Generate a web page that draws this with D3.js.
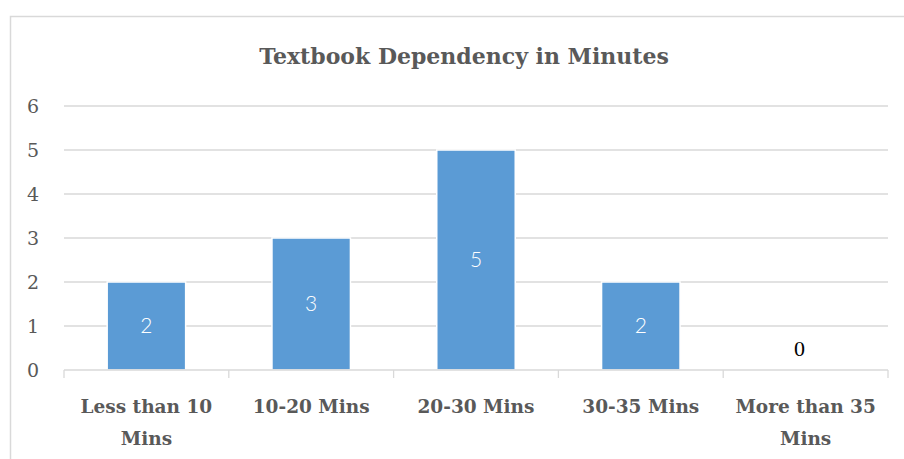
<!DOCTYPE html>
<html>
<head>
<meta charset="utf-8">
<script src="https://cdn.jsdelivr.net/npm/d3@7"></script>
<style>
  body { margin: 0; background: #fff; }
  svg { display: block; }
</style>
</head>
<body>
<svg></svg>
<script>
// chart data
const categories = ["Less than 10 Mins", "10-20 Mins", "20-30 Mins", "30-35 Mins", "More than 35 Mins"];
const labelLines = [["Less than 10", "Mins"], ["10-20 Mins"], ["20-30 Mins"], ["30-35 Mins"], ["More than 35", "Mins"]];
const values = [2, 3, 5, 2, 0];
const yTicks = [0, 1, 2, 3, 4, 5, 6];
const title = "Textbook Dependency in Minutes";

const width = 904,
  height = 459;
const serif = "'DejaVu Serif', 'Liberation Serif', serif";
const grey = "#595959";

const svg = d3.select("svg").attr("width", width).attr("height", height);

// outer chart frame (only top and left visible in the crop)
svg
  .append("rect")
  .attr("x", 10.5)
  .attr("y", 16.5)
  .attr("width", width)
  .attr("height", height)
  .attr("fill", "none")
  .attr("stroke", "#d9d9d9")
  .attr("stroke-width", 1.5);

/////////////////////////////////////////////////////////////////
////////////////          SCALES           //////////////////////
/////////////////////////////////////////////////////////////////
const x = d3
  .scaleBand()
  .domain(categories)
  .range([64, 888])
  .paddingInner(1.1 / 2.1)
  .paddingOuter(0.55 / 2.1);

const y = d3.scaleLinear().domain([0, 6]).range([370, 106]);

const step = x.step();

// title
svg
  .append("text")
  .attr("x", 464)
  .attr("y", 64)
  .attr("text-anchor", "middle")
  .attr("font-family", serif)
  .attr("font-weight", "bold")
  .attr("font-size", 22)
  .attr("fill", grey)
  .text(title);

// gridlines
svg
  .append("g")
  .selectAll("line")
  .data(yTicks.filter(d => d > 0))
  .enter()
  .append("line")
  .attr("x1", 64)
  .attr("x2", 888)
  .attr("y1", d => y(d))
  .attr("y2", d => y(d))
  .attr("stroke", "#d9d9d9")
  .attr("stroke-width", 1.3);

// y tick labels
svg
  .append("g")
  .selectAll("text")
  .data(yTicks)
  .enter()
  .append("text")
  .attr("x", 33)
  .attr("y", d => y(d) + 7)
  .attr("text-anchor", "middle")
  .attr("font-family", serif)
  .attr("font-size", 19)
  .attr("fill", grey)
  .text(d => d);

// bars
svg
  .append("g")
  .selectAll("rect")
  .data(values)
  .enter()
  .append("rect")
  .attr("x", (d, i) => x(categories[i]))
  .attr("width", x.bandwidth())
  .attr("y", d => y(d))
  .attr("height", d => y(0) - y(d))
  .attr("fill", "#5b9bd5")
  .attr("stroke", "#fff")
  .attr("stroke-width", d => (d > 0 ? 1.5 : 0));

// x axis line + ticks
svg
  .append("line")
  .attr("x1", 64)
  .attr("x2", 888)
  .attr("y1", y(0))
  .attr("y2", y(0))
  .attr("stroke", "#d9d9d9")
  .attr("stroke-width", 1.3);

svg
  .append("g")
  .selectAll("line")
  .data(d3.range(categories.length + 1))
  .enter()
  .append("line")
  .attr("x1", i => 64 + i * step)
  .attr("x2", i => 64 + i * step)
  .attr("y1", y(0))
  .attr("y2", y(0) + 8)
  .attr("stroke", "#d9d9d9")
  .attr("stroke-width", 1.3);

// category labels
const catLabels = svg
  .append("g")
  .selectAll("text")
  .data(categories)
  .enter()
  .append("text")
  .attr("x", d => x(d) + x.bandwidth() / 2)
  .attr("y", 413)
  .attr("text-anchor", "middle")
  .attr("font-family", serif)
  .attr("font-weight", "bold")
  .attr("font-size", 18.5)
  .attr("fill", grey);

catLabels
  .selectAll("tspan")
  .data((d, i) => labelLines[i].map(t => ({ t: t, x: x(d) + x.bandwidth() / 2 })))
  .enter()
  .append("tspan")
  .attr("x", d => d.x)
  .attr("dy", (d, i) => (i === 0 ? 0 : 32))
  .text(d => d.t);

// data labels
svg
  .append("g")
  .selectAll("text")
  .data(values)
  .enter()
  .append("text")
  .attr("x", (d, i) => x(categories[i]) + x.bandwidth() / 2 - (d > 0 ? 0 : 6))
  .attr("y", d => (d > 0 ? (y(d) + y(0)) / 2 + 7 : y(0) - 14))
  .attr("text-anchor", "middle")
  .attr("font-family", d => (d > 0 ? "Lato, 'Open Sans', sans-serif" : "'Liberation Serif', serif"))
  .attr("font-weight", d => (d > 0 ? 300 : "normal"))
  .attr("font-size", d => (d > 0 ? 21 : 22))
  .attr("fill", d => (d > 0 ? "#fff" : "#000"))
  .text(d => d);
</script>
</body>
</html>
